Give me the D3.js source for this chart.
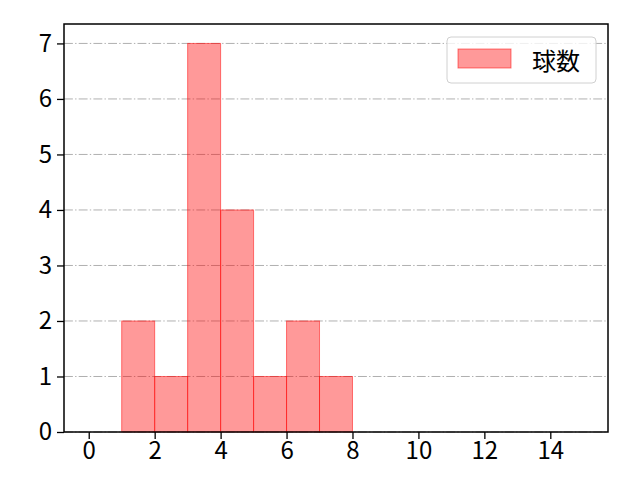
<!DOCTYPE html>
<html lang="ja">
  <head>
    <meta charset="UTF-8" />
    <title>球数 histogram</title>
    <script src="https://cdn.jsdelivr.net/npm/d3@7/dist/d3.min.js"></script>
    <style>
      body { margin: 0; background: #fff; }
      text { font-family: "Noto Sans CJK JP", "Noto Sans", sans-serif; }
    </style>
  </head>
  <body>
    <div id="app"></div>
    <script>
  // histogram bins (left edge, right edge) and counts
  const binStarts = [1, 2, 3, 4, 5, 6, 7]
  const binEnds = [2, 3, 4, 5, 6, 7, 8]
  const counts = [2, 1, 7, 4, 1, 2, 1]
  const xTicks = [0, 2, 4, 6, 8, 10, 12, 14]
  const yTicks = [0, 1, 2, 3, 4, 5, 6, 7]
  const seriesName = '球数'

  const width = 640
  const height = 480
  const margin = { top: 24, right: 32, bottom: 48, left: 64 }

  const svg = d3.select('#app').append('svg')
    .attr('width', width)
    .attr('height', height)

  const x = d3.scaleLinear()
    .domain([-0.75, 15.75])
    .range([margin.left, width - margin.right])

  const y = d3.scaleLinear()
    .domain([0, 7.35])
    .range([height - margin.bottom, margin.top])

  // grid lines (behind the bars)
  svg.append('g')
    .selectAll('line')
    .data(yTicks)
    .join('line')
    .attr('x1', margin.left)
    .attr('x2', width - margin.right)
    .attr('y1', d => y(d))
    .attr('y2', d => y(d))
    .attr('stroke', '#b0b0b0')
    .attr('stroke-width', 1)
    .attr('stroke-dasharray', '8.9,2.2,1.4,2.2')

  // bars
  const bins = binStarts.map((s, i) => ({ x0: s, x1: binEnds[i], n: counts[i] }))
  svg.append('g')
    .selectAll('rect')
    .data(bins)
    .join('rect')
    .attr('x', d => x(d.x0))
    .attr('width', d => x(d.x1) - x(d.x0))
    .attr('y', d => y(d.n))
    .attr('height', d => y(0) - y(d.n))
    .attr('fill', 'rgba(255,0,0,0.4)')
    .attr('stroke', 'rgba(255,0,0,0.5)')
    .attr('stroke-width', 1)

  // axes
  const xAxis = svg.append('g')
    .attr('transform', `translate(0,${height - margin.bottom})`)
    .call(d3.axisBottom(x).tickValues(xTicks).tickSize(7).tickPadding(3))
  const yAxis = svg.append('g')
    .attr('transform', `translate(${margin.left},0)`)
    .call(d3.axisLeft(y).tickValues(yTicks).tickSize(7).tickPadding(5))

  for (const ax of [xAxis, yAxis]) {
    ax.select('.domain').remove()
    ax.selectAll('.tick line').attr('stroke', '#000').attr('stroke-width', 1.3)
    ax.selectAll('.tick text')
      .attr('fill', '#000')
      .attr('font-size', 24)
      .style('font-size', '24px')
      .style('font-family', '"Noto Sans CJK JP", "Noto Sans", sans-serif')
  }

  // frame
  svg.append('rect')
    .attr('x', margin.left)
    .attr('y', margin.top)
    .attr('width', width - margin.left - margin.right)
    .attr('height', height - margin.top - margin.bottom)
    .attr('fill', 'none')
    .attr('stroke', '#000')
    .attr('stroke-width', 1.5)

  // legend
  const legend = svg.append('g')
  legend.append('rect')
    .attr('x', 447).attr('y', 37)
    .attr('width', 149).attr('height', 46)
    .attr('rx', 4)
    .attr('fill', 'rgba(255,255,255,0.8)')
    .attr('stroke', '#d0d0d0')
  legend.append('rect')
    .attr('x', 458).attr('y', 49)
    .attr('width', 53).attr('height', 19)
    .attr('fill', 'rgba(255,0,0,0.4)')
    .attr('stroke', 'rgba(255,0,0,0.5)')
  legend.append('text')
    .attr('x', 532).attr('y', 59)
    .attr('dominant-baseline', 'central')
    .style('font-size', '24px')
    .text(seriesName)
    </script>
  </body>
</html>
